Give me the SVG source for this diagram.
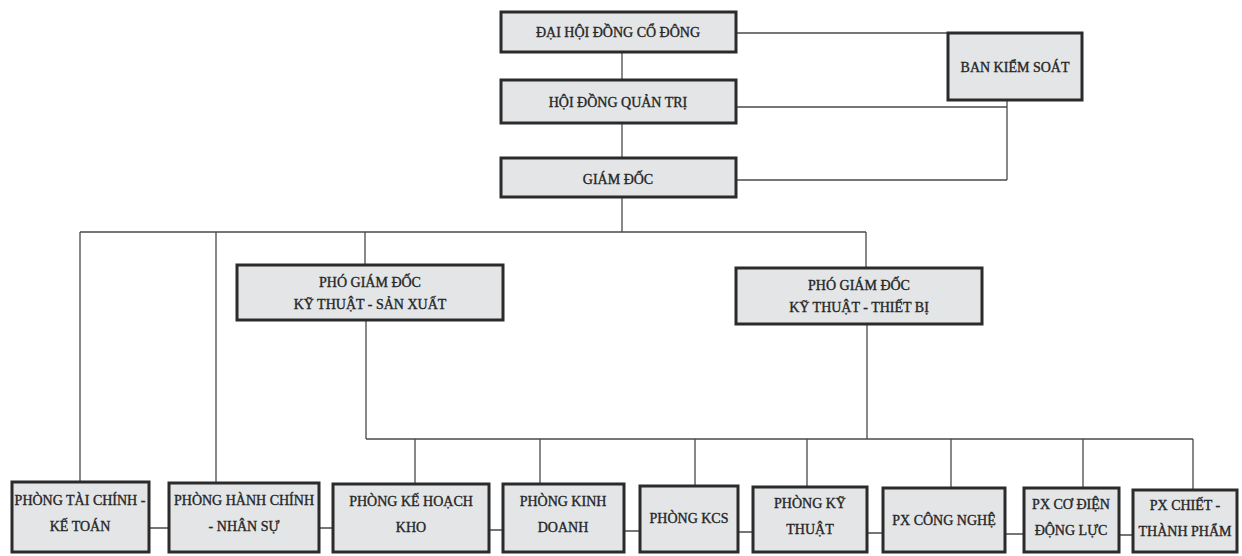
<svg xmlns="http://www.w3.org/2000/svg" width="1242" height="556" viewBox="0 0 1242 556">
<style>
.box{fill:#e3e5e7;stroke:#2b2b2b;stroke-width:3}
.t{font-family:"Liberation Serif","Times New Roman",serif;font-size:14px;fill:#262626;stroke:#262626;stroke-width:0.35;text-anchor:middle}
.c{fill:none;stroke:#4a4a4a;stroke-width:1.3}
</style>
<rect width="1242" height="556" fill="#ffffff"/>
<g id="connectors" class="c">
<path d="M622 52V80M622 123V158M622 197V232"/>
<path d="M736 33H948M736 107H1007M736 180H1007M1007 100V180"/>
<path d="M80 232H866M80 232V482M216 232V483M365 232V265M866 232V268"/>
<path d="M366 320V439M867 324V439M366 439H1193"/>
<path d="M415 439V484M540 439V484M695 439V486M807 439V487M951 439V488M1083 439V488M1193 439V490"/>
<path d="M149 528H169M319 528H333M489 530H503M624 531H640M738 532H753M867 533H883M1005 534H1024M1119 535H1133"/>
</g>
<g id="n-dhdcd"><rect class="box" x="501" y="12" width="235" height="40"/><text class="t" x="618" y="37">ĐẠI HỘI ĐỒNG CỔ ĐÔNG</text></g>
<g id="n-bks"><rect class="box" x="948" y="33" width="134" height="67"/><text class="t" x="1015" y="72">BAN KIỂM SOÁT</text></g>
<g id="n-hdqt"><rect class="box" x="501" y="80" width="235" height="43"/><text class="t" x="618" y="107">HỘI ĐỒNG QUẢN TRỊ</text></g>
<g id="n-gd"><rect class="box" x="501" y="158" width="235" height="39"/><text class="t" x="618" y="184">GIÁM ĐỐC</text></g>
<g id="n-pgd-sx"><rect class="box" x="237" y="265" width="266" height="55"/><text class="t" x="370" y="287">PHÓ GIÁM ĐỐC</text><text class="t" x="370" y="309">KỸ THUẬT - SẢN XUẤT</text></g>
<g id="n-pgd-tb"><rect class="box" x="736" y="268" width="246" height="56"/><text class="t" x="859" y="290">PHÓ GIÁM ĐỐC</text><text class="t" x="859" y="312">KỸ THUẬT - THIẾT BỊ</text></g>
<g id="n-tckt"><rect class="box" x="12" y="482" width="137" height="70"/><text class="t" x="80" y="505">PHÒNG TÀI CHÍNH -</text><text class="t" x="80" y="531">KẾ TOÁN</text></g>
<g id="n-hcns"><rect class="box" x="169" y="483" width="150" height="69"/><text class="t" x="244" y="505">PHÒNG HÀNH CHÍNH</text><text class="t" x="244" y="531">- NHÂN SỰ</text></g>
<g id="n-khk"><rect class="box" x="333" y="484" width="156" height="68"/><text class="t" x="411" y="506">PHÒNG KẾ HOẠCH</text><text class="t" x="411" y="532">KHO</text></g>
<g id="n-kd"><rect class="box" x="503" y="484" width="121" height="68"/><text class="t" x="563" y="506">PHÒNG KINH</text><text class="t" x="563" y="532">DOANH</text></g>
<g id="n-kcs"><rect class="box" x="640" y="486" width="98" height="66"/><text class="t" x="689" y="523">PHÒNG KCS</text></g>
<g id="n-kt"><rect class="box" x="753" y="487" width="114" height="65"/><text class="t" x="810" y="508">PHÒNG KỸ</text><text class="t" x="810" y="534">THUẬT</text></g>
<g id="n-cn"><rect class="box" x="883" y="488" width="122" height="64"/><text class="t" x="944" y="525">PX  CÔNG NGHỆ</text></g>
<g id="n-cddl"><rect class="box" x="1024" y="488" width="95" height="64"/><text class="t" x="1071" y="509">PX  CƠ ĐIỆN</text><text class="t" x="1071" y="535">ĐỘNG LỰC</text></g>
<g id="n-ctp"><rect class="box" x="1133" y="490" width="104" height="62"/><text class="t" x="1185" y="510">PX CHIẾT -</text><text class="t" x="1185" y="536">THÀNH PHẨM</text></g>
</svg>
